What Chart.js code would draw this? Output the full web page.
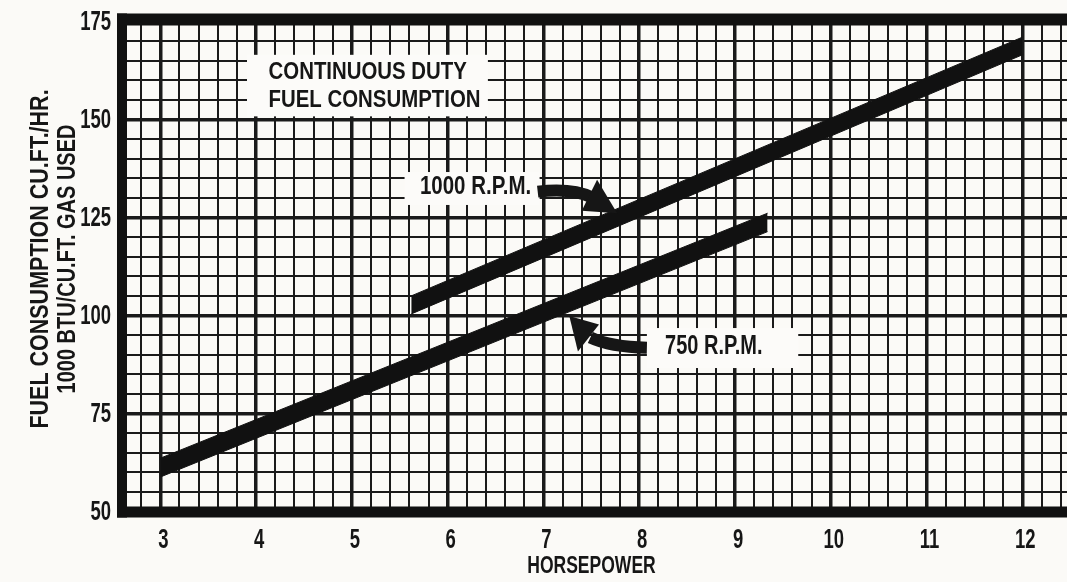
<!DOCTYPE html>
<html>
<head>
<meta charset="utf-8">
<script src="https://cdn.jsdelivr.net/npm/chart.js@4.4.1/dist/chart.umd.min.js"></script>
<style>
  html, body { margin: 0; padding: 0; background: #fbfaf7; }
  #wrap { width: 1067px; height: 582px; position: relative; }
</style>
</head>
<body>
<div id="wrap"><canvas id="chart"></canvas></div>
<script>
// values (horsepower vs cu.ft./hr.)
const rpm750X = [3.0, 9.34];
const rpm750Upper = [63.6, 126.1];
const rpm750Lower = [58.8, 121.4];
const rpm1000X = [5.62, 12.0];
const rpm1000Upper = [105.0, 171.0];
const rpm1000Lower = [100.4, 166.5];

const xRange = [2.6, 12.466];
const yRange = [50, 175];

const FONT = '"Liberation Sans", Arial, sans-serif';
const INK = '#161616';

function pts(xs, ys){ return xs.map((x,i)=>({ x, y: ys[i] })); }
function isInt(v){ return Math.abs(v - Math.round(v)) < 1e-6; }
function isQuarter(v){ return Math.abs(v/25 - Math.round(v/25)) < 1e-6; }

// the scan uses a condensed gothic face, so squeeze text horizontally
function squashText(ctx, text, x, y, size, sx, align){
  ctx.save();
  ctx.translate(x, y);
  ctx.scale(sx, 1);
  ctx.font = 'bold ' + size + 'px ' + FONT;
  ctx.textAlign = align || 'left';
  ctx.textBaseline = 'middle';
  ctx.fillStyle = INK;
  ctx.fillText(text, 0, 0);
  ctx.restore();
}

// annotation layout, in data units
const boxes = [
  { x0: 3.905, x1: 6.42, y0: 150.8, y1: 166.5 },
  { x0: 5.55,  x1: 6.96, y0: 128.2, y1: 136.6 },
  { x0: 8.08,  x1: 9.66, y0: 86.6,  y1: 96.8 }
];
const notes = [
  { text: 'CONTINUOUS DUTY',  x: 4.13, y: 162.1, size: 24, sx: 0.85 },
  { text: 'FUEL CONSUMPTION', x: 4.13, y: 155.0, size: 24, sx: 0.85 },
  { text: '1000 R.P.M.',      x: 5.71, y: 132.8, size: 25, sx: 0.82 },
  { text: '750 R.P.M.',       x: 8.27, y: 92.0,  size: 27, sx: 0.74 }
];
const arrows = [
  { s: [6.94, 131.6], c: [7.30, 132.6], e: [7.50, 130.2], tip: [7.77, 126.1], b1: [7.56, 134.6], b2: [7.40, 126.7], w: 12 },
  { s: [8.08, 91.8],  c: [7.70, 92.0],  e: [7.49, 94.4],  tip: [7.27, 99.9],  b1: [7.58, 97.7],  b2: [7.36, 90.8], w: 12 }
];

const scanDecor = {
  id: 'scanDecor',
  beforeDraw(chart){
    const ctx = chart.ctx;
    ctx.save();
    ctx.fillStyle = '#fbfaf7';
    ctx.fillRect(0, 0, chart.width, chart.height);
    ctx.restore();
  },
  beforeDatasetsDraw(chart){
    const { ctx, scales: { x, y } } = chart;
    ctx.save();
    ctx.fillStyle = '#fcfbf9';
    boxes.forEach(b=>{
      const l = x.getPixelForValue(b.x0), r = x.getPixelForValue(b.x1);
      const t = y.getPixelForValue(b.y1), btm = y.getPixelForValue(b.y0);
      ctx.fillRect(l, t, r - l, btm - t);
    });
    ctx.restore();
  },
  afterDatasetsDraw(chart){
    const { ctx, chartArea: a, scales: { x, y } } = chart;
    const P = p => [x.getPixelForValue(p[0]), y.getPixelForValue(p[1])];
    ctx.save();

    // arrows
    ctx.strokeStyle = INK;
    ctx.fillStyle = INK;
    arrows.forEach(ar=>{
      const s = P(ar.s), c = P(ar.c), e = P(ar.e);
      ctx.lineWidth = ar.w;
      ctx.lineCap = 'butt';
      ctx.beginPath();
      ctx.moveTo(s[0], s[1]);
      ctx.quadraticCurveTo(c[0], c[1], e[0], e[1]);
      ctx.stroke();
      const t = P(ar.tip), b1 = P(ar.b1), b2 = P(ar.b2);
      ctx.beginPath();
      ctx.moveTo(t[0], t[1]);
      ctx.lineTo(b1[0], b1[1]);
      ctx.lineTo(b2[0], b2[1]);
      ctx.closePath();
      ctx.fill();
    });

    // boxed labels
    notes.forEach(n=>{
      squashText(ctx, n.text, x.getPixelForValue(n.x), y.getPixelForValue(n.y), n.size, n.sx, 'left');
    });

    // heavy frame (right side runs off the sheet)
    ctx.fillStyle = '#111';
    ctx.fillRect(a.left - 5, a.top - 8, a.right - a.left + 5, 12);
    ctx.fillRect(a.left - 5, a.bottom - 5, a.right - a.left + 5, 11);
    ctx.fillRect(a.left - 5, a.top - 8, 10, a.bottom - a.top + 14);
    ctx.restore();

    // tick labels from the scales' own ticks
    x.ticks.forEach(t=>{
      if (t.label) squashText(ctx, t.label, x.getPixelForValue(t.value) + 3, a.bottom + 29, 28, 0.66, 'center');
    });
    y.ticks.forEach(t=>{
      if (t.label) squashText(ctx, t.label, 111, y.getPixelForValue(t.value) + 1, 28, 0.66, 'right');
    });

    // axis titles
    squashText(ctx, 'HORSEPOWER', (a.left + a.right) / 2 - 3, 566, 24, 0.73, 'center');
    ctx.save();
    ctx.translate(41, 259);
    ctx.rotate(-Math.PI / 2);
    squashText(ctx, 'FUEL CONSUMPTION CU.FT./HR.', 0, 0, 25, 0.86, 'center');
    squashText(ctx, '1000 BTU/CU.FT. GAS USED', 0, 27, 25, 0.80, 'center');
    ctx.restore();
  }
};

new Chart(document.getElementById('chart'), {
  type: 'line',
  data: {
    datasets: [
      { label: '750 R.P.M. lower', data: pts(rpm750X, rpm750Lower), borderColor: '#111', borderWidth: 1, pointRadius: 0, fill: false },
      { label: '750 R.P.M.', data: pts(rpm750X, rpm750Upper), borderColor: '#111', borderWidth: 1, pointRadius: 0, backgroundColor: '#111', fill: '-1' },
      { label: '1000 R.P.M. lower', data: pts(rpm1000X, rpm1000Lower), borderColor: '#111', borderWidth: 1, pointRadius: 0, fill: false },
      { label: '1000 R.P.M.', data: pts(rpm1000X, rpm1000Upper), borderColor: '#111', borderWidth: 1, pointRadius: 0, backgroundColor: '#111', fill: '-1' }
    ]
  },
  options: {
    responsive: true,
    maintainAspectRatio: false,
    animation: false,
    devicePixelRatio: 1,
    layout: { padding: { top: 21.5, right: 0, left: 0, bottom: 0 } },
    plugins: { legend: { display: false }, tooltip: { enabled: false } },
    scales: {
      x: {
        type: 'linear',
        min: xRange[0], max: xRange[1],
        afterFit: s => { s.height = 70.5; },
        ticks: {
          display: false,
          stepSize: 0.2, includeBounds: false, autoSkip: false, maxRotation: 0,
          callback: v => isInt(v) ? String(Math.round(v)) : ''
        },
        grid: {
          color: '#1a1a1a', drawTicks: false,
          lineWidth: c => (c.tick && isInt(c.tick.value)) ? 3.5 : 2
        },
        border: { display: false }
      },
      y: {
        min: yRange[0], max: yRange[1],
        afterFit: s => { s.width = 122; },
        ticks: {
          display: false,
          stepSize: 5, autoSkip: false,
          callback: v => isQuarter(v) ? String(v) : ''
        },
        grid: {
          color: '#1a1a1a', drawTicks: false,
          lineWidth: c => (c.tick && isQuarter(c.tick.value)) ? 3.5 : 2
        },
        border: { display: false }
      }
    }
  },
  plugins: [scanDecor]
});
</script>
</body>
</html>
